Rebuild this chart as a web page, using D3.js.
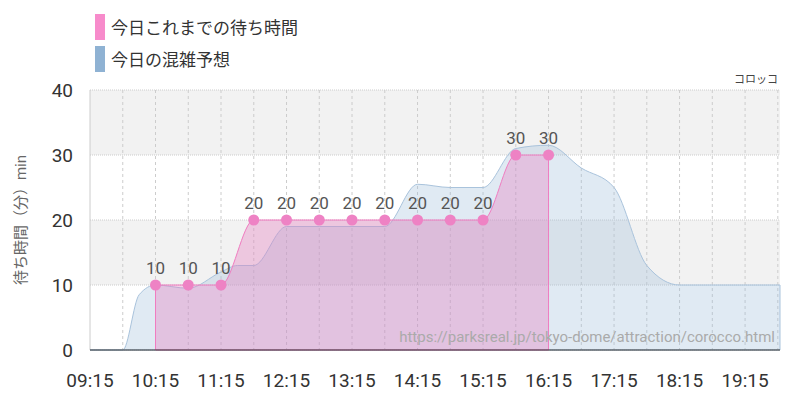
<!DOCTYPE html><html><head><meta charset="utf-8"><script src="https://cdn.jsdelivr.net/npm/d3@7"></script>
<style>body{margin:0;background:#fff}text{font-family:Roboto,"Noto Sans CJK JP",sans-serif}</style></head><body><svg id="c" width="800" height="400"></svg><script>
const actualTimes=["10:15","10:45","11:15","11:45","12:15","12:45","13:15","13:45","14:15","14:45","15:15","15:45","16:15"];
const actualVals=[10,10,10,20,20,20,20,20,20,20,20,30,30];
const fcTimes=["09:15","09:30","09:45","10:00","10:15","10:45","11:15","11:30","11:45","12:15","12:45","13:15","13:45","14:15","14:45","15:15","15:45","16:15","16:45","17:15","17:45","18:15","18:45","19:15","19:47"];
const fcVals=[0,0,0,8.5,10,9.5,12,13,13,19,19,19,19,25.5,25,25,31,31.5,28,25,13,10,10,10,10];
const xTicks=["09:15","10:15","11:15","12:15","13:15","14:15","15:15","16:15","17:15","18:15","19:15"];
const yTicks=[0,10,20,30,40];
const m=t=>{const[a,b]=t.split(":");return +a*60+ +b;};
const svg=d3.select("#c"),L=90,R=780,T=90,B=350;
const x=d3.scaleLinear().domain([m("09:15"),m("19:47")]).range([L,R]);
const y=d3.scaleLinear().domain([0,40]).range([B,T]);
[[30,40],[10,20]].forEach(b=>svg.append("rect").attr("x",L).attr("width",R-L).attr("y",y(b[1])).attr("height",y(b[0])-y(b[1])).attr("fill","#f2f2f2"));
yTicks.forEach(v=>svg.append("line").attr("x1",L).attr("x2",R).attr("y1",y(v)).attr("y2",y(v)).attr("stroke","#ccc").attr("stroke-dasharray","1,1"));
for(let t=m("09:45");t<m("19:47");t+=30)svg.append("line").attr("x1",x(t)).attr("x2",x(t)).attr("y1",T).attr("y2",B).attr("stroke","#ccc").attr("stroke-dasharray","3,3");
svg.append("line").attr("x1",L).attr("x2",L).attr("y1",T).attr("y2",B).attr("stroke","#ccc");
const fc=fcTimes.map((t,i)=>[m(t),fcVals[i]]);
svg.append("path").attr("d",d3.area().x(d=>x(d[0])).y0(y(0)).y1(d=>y(d[1])).curve(d3.curveMonotoneX)(fc)).attr("fill","rgba(160,190,220,0.33)").attr("stroke","#a9c3dc").attr("stroke-width",1);
const ac=actualTimes.map((t,i)=>[m(t),actualVals[i]]);
svg.append("path").attr("d",d3.area().x(d=>x(d[0])).y0(y(0)).y1(d=>y(d[1])).curve(d3.curveMonotoneX)(ac)).attr("fill","rgba(230,120,190,0.35)").attr("stroke","#f07cc0").attr("stroke-width",1);
ac.forEach(d=>{svg.append("circle").attr("cx",x(d[0])).attr("cy",y(d[1])).attr("r",5.5).attr("fill","#ee82c4");
svg.append("text").attr("x",x(d[0])).attr("y",y(d[1])-11).attr("text-anchor","middle").attr("font-size",17).attr("fill","#555").text(d[1]);});
svg.append("line").attr("x1",L).attr("x2",R).attr("y1",B).attr("y2",B).attr("stroke","#333");
yTicks.forEach(v=>svg.append("text").attr("x",73).attr("y",y(v)+7).attr("text-anchor","end").attr("font-size",19).attr("fill","#333").text(v));
xTicks.forEach(t=>svg.append("text").attr("x",x(m(t))).attr("y",387).attr("text-anchor","middle").attr("font-size",19).attr("fill","#333").text(t));
svg.append("text").attr("transform","translate(26,220) rotate(-90)").attr("text-anchor","middle").attr("font-size",15).attr("fill","#666").text("待ち時間（分）min");
svg.append("text").attr("x",778).attr("y",83).attr("text-anchor","end").attr("font-size",11).attr("fill","#444").text("コロッコ");
svg.append("text").attr("x",775).attr("y",342).attr("text-anchor","end").attr("font-size",15).attr("fill","#aaa").text("https://parksreal.jp/tokyo-dome/attraction/corocco.html");
[["今日これまでの待ち時間","#f78bcb",14],["今日の混雑予想","#8fb2d3",46]].forEach(l=>{svg.append("rect").attr("x",95).attr("y",l[2]).attr("width",10).attr("height",26).attr("fill",l[1]);
svg.append("text").attr("x",111).attr("y",l[2]+20).attr("font-size",17).attr("fill","#333").text(l[0]);});
</script></body></html>
